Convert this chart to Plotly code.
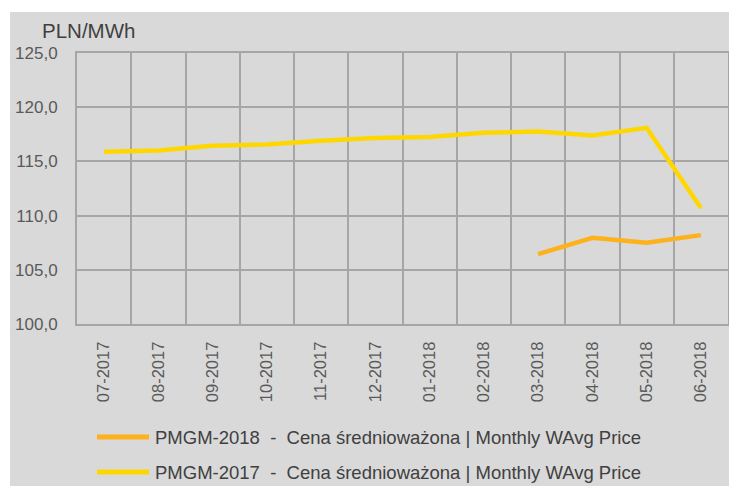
import plotly.graph_objects as go

months = ["07-2017", "08-2017", "09-2017", "10-2017", "11-2017", "12-2017",
          "01-2018", "02-2018", "03-2018", "04-2018", "05-2018", "06-2018"]
pmgm_2017 = [115.9, 116.0, 116.45, 116.55, 116.9, 117.15,
             117.25, 117.65, 117.75, 117.4, 118.1, 110.7]
pmgm_2018 = [None, None, None, None, None, None,
             None, None, 106.45, 107.95, 107.5, 108.2]
y_ticks = [100, 105, 110, 115, 120, 125]

name18 = "PMGM-2018\u00a0 -\u00a0 Cena średnioważona | Monthly WAvg Price"
name17 = "PMGM-2017\u00a0 -\u00a0 Cena średnioważona | Monthly WAvg Price"
series = [(name18, pmgm_2018, "#FDB21C"), (name17, pmgm_2017, "#FFD700")]

FONT = "Liberation Sans, Arial, sans-serif"
GRID = "#a6a6a6"
BG = "#d9d9d9"

W, H = 729, 486
L, R, T, B = 77, 1, 53, 486 - 324
pw, ph = W - L - R, H - T - B


def px(x):
    return (x - L) / pw


def py(y):
    return (H - B - y) / ph


fig = go.Figure()
for name, vals, col in series:
    fig.add_trace(go.Scatter(x=months, y=vals, mode="lines", name=name,
                             line=dict(color=col, width=4.5), showlegend=False))

# white outer strips (top and left), rest of the page is grey
fig.add_shape(type="rect", xref="paper", yref="paper",
              x0=px(-10), x1=px(800), y0=py(12), y1=py(-10),
              fillcolor="white", line=dict(width=0), layer="below")
fig.add_shape(type="rect", xref="paper", yref="paper",
              x0=px(-10), x1=px(10), y0=py(600), y1=py(-10),
              fillcolor="white", line=dict(width=0), layer="below")

fig.add_annotation(text="PLN/MWh", xref="paper", yref="paper",
                   x=px(40), y=py(31), xanchor="left", yanchor="middle",
                   showarrow=False, font=dict(family=FONT, size=20.5, color="#404040"))

# custom legend (long swatches)
for i, (name, vals, col) in enumerate(series):
    yy = 437 + 35 * i
    fig.add_shape(type="line", xref="paper", yref="paper",
                  x0=px(97), x1=px(149), y0=py(yy), y1=py(yy),
                  line=dict(color=col, width=5))
    fig.add_annotation(text=name, xref="paper", yref="paper",
                       x=px(153), y=py(yy), xanchor="left", yanchor="middle",
                       showarrow=False,
                       font=dict(family=FONT, size=18.5, color="#404040"))

fig.update_layout(
    width=W, height=H, autosize=False,
    margin=dict(l=L, r=R, t=T, b=B, pad=0, autoexpand=False),
    paper_bgcolor=BG, plot_bgcolor=BG,
    separators=", ",
    font=dict(family=FONT, color="#595959"),
    showlegend=False,
    xaxis=dict(type="category", tickangle=-90, tickson="boundaries",
               showgrid=True, gridcolor=GRID, gridwidth=2,
               showline=True, linecolor=GRID, linewidth=2, mirror=True,
               ticks="", tickfont=dict(family=FONT, size=16.5, color="#595959"),
               ticklabelstandoff=9, range=[-0.5, 11.5], automargin=False),
    yaxis=dict(range=[100, 125], tickvals=y_ticks, tickformat=".1f",
               showgrid=True, gridcolor=GRID, gridwidth=2,
               showline=True, linecolor=GRID, linewidth=2, mirror=True,
               zeroline=False, ticks="", automargin=False,
               tickfont=dict(family=FONT, size=17, color="#595959"),
               ticklabelstandoff=14),
)

fig.write_html("out.html",
               config=dict(displayModeBar=False, responsive=False),
               post_script="document.body.style.margin='0';"
                           "document.body.style.overflow='hidden';"
                           "document.body.style.background='#d9d9d9';")
